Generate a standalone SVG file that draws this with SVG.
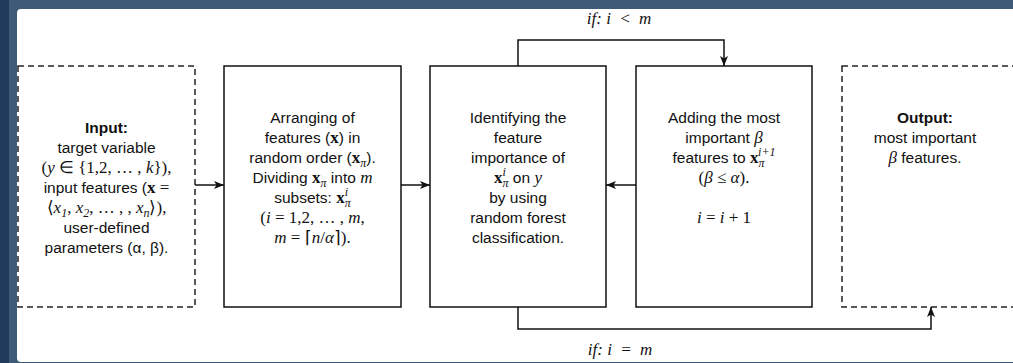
<svg xmlns="http://www.w3.org/2000/svg" width="1013" height="363" viewBox="0 0 1013 363">
<defs>
<style>
.t{font-family:"Liberation Sans",Arial,sans-serif;font-size:15.5px;fill:#111;text-anchor:middle}
.b{font-weight:bold}
.m{font-family:"Liberation Serif","Times New Roman",serif;font-style:italic;font-size:17px}
.u{font-family:"Liberation Serif","Times New Roman",serif;font-style:normal;font-size:17px}
.bx{font-family:"Liberation Serif","Times New Roman",serif;font-weight:bold;font-style:normal;font-size:17px}
.s{font-family:"Liberation Serif","Times New Roman",serif;font-style:italic;font-size:12px}
.box{fill:#fff;stroke:#111;stroke-width:1.5}
.dash{fill:#fff;stroke:#222;stroke-width:1.5;stroke-dasharray:6 4}
.c{fill:none;stroke:#111;stroke-width:1.5}
.lbl{font-family:"Liberation Serif","Times New Roman",serif;font-style:italic;font-size:17px;fill:#111;text-anchor:middle}
</style>
<marker id="ah" markerUnits="userSpaceOnUse" markerWidth="10" markerHeight="10" viewBox="0 0 10 10" refX="10" refY="5" orient="auto">
<path d="M0,1 L10,5 L0,9 L2.5,5 Z" fill="#111"/>
</marker>
</defs>
<rect x="0" y="0" width="1013" height="363" fill="#3d5a77"/>
<rect x="0" y="0" width="9" height="363" fill="#1f3b5b"/>
<rect x="17" y="9" width="1010" height="353" rx="4" fill="#fff"/>

<g id="connectors">
<line class="c" x1="195" y1="185" x2="224" y2="185" marker-end="url(#ah)"/>
<line class="c" x1="401" y1="185" x2="430" y2="185" marker-end="url(#ah)"/>
<line class="c" x1="636" y1="185" x2="606" y2="185" marker-end="url(#ah)"/>
<path class="c" d="M518,66 V40 H724 V66" marker-end="url(#ah)"/>
<path class="c" d="M518,307 V329 H931 V307" marker-end="url(#ah)"/>
<text class="lbl" x="619" y="24">if: i <tspan dx="4">&lt;</tspan> <tspan dx="4">m</tspan></text>
<text class="lbl" x="620" y="355">if: i <tspan dx="4">=</tspan> <tspan dx="4">m</tspan></text>
</g>

<g id="input">
<rect class="dash" x="18" y="66" width="177" height="241"/>
<text class="t b" x="106.5" y="133">Input:</text>
<text class="t" x="106.5" y="153">target variable</text>
<text class="t" x="106.5" y="173"><tspan class="u">(</tspan><tspan class="m">y</tspan><tspan class="u"> ∈ {1,2, … , </tspan><tspan class="m">k</tspan><tspan class="u">}),</tspan></text>
<text class="t" x="106.5" y="193">input features (<tspan class="bx">x</tspan><tspan class="u"> =</tspan></text>
<text class="t" x="106.5" y="213"><tspan class="u">⟨</tspan><tspan class="m">x</tspan><tspan class="s" dy="4">1</tspan><tspan class="u" dy="-4">, </tspan><tspan class="m">x</tspan><tspan class="s" dy="4">2</tspan><tspan class="u" dy="-4">, … , , </tspan><tspan class="m">x</tspan><tspan class="s" dy="4">n</tspan><tspan class="u" dy="-4">⟩),</tspan></text>
<text class="t" x="106.5" y="233">user-defined</text>
<text class="t" x="106.5" y="253">parameters  (α, β).</text>
</g>

<g id="arrange">
<rect class="box" x="224" y="66" width="177" height="241"/>
<text class="t" x="312.5" y="123">Arranging of</text>
<text class="t" x="312.5" y="143">features (<tspan class="bx">x</tspan>) in</text>
<text class="t" x="312.5" y="163">random order (<tspan class="bx">x</tspan><tspan class="s" dy="4">π</tspan><tspan dy="-4">).</tspan></text>
<text class="t" x="312.5" y="183">Dividing <tspan class="bx">x</tspan><tspan class="s" dy="4">π</tspan><tspan dy="-4"> into </tspan><tspan class="m">m</tspan></text>
<text class="t" x="312.5" y="203">subsets: <tspan class="bx">x</tspan><tspan class="s" dy="-7">i</tspan><tspan class="s" dx="-3.3" dy="11">π</tspan></text>
<text class="t" x="312.5" y="223"><tspan class="u">(</tspan><tspan class="m">i</tspan><tspan class="u"> = 1,2, … , </tspan><tspan class="m">m</tspan><tspan class="u">,</tspan></text>
<text class="t" x="312.5" y="243"><tspan class="m">m</tspan><tspan class="u"> = ⌈</tspan><tspan class="m">n</tspan><tspan class="u">/</tspan><tspan class="m">α</tspan><tspan class="u">⌉).</tspan></text>
</g>

<g id="identify">
<rect class="box" x="430" y="66" width="176" height="241"/>
<text class="t" x="518" y="123">Identifying the</text>
<text class="t" x="518" y="143">feature</text>
<text class="t" x="518" y="163">importance of</text>
<text class="t" x="518" y="183"><tspan class="bx">x</tspan><tspan class="s" dy="-7">i</tspan><tspan class="s" dx="-3.3" dy="11">π</tspan><tspan dy="-4"> on </tspan><tspan class="m">y</tspan></text>
<text class="t" x="518" y="203">by using</text>
<text class="t" x="518" y="223">random forest</text>
<text class="t" x="518" y="243">classification.</text>
</g>

<g id="add">
<rect class="box" x="636" y="66" width="176" height="241"/>
<text class="t" x="724" y="123">Adding the most</text>
<text class="t" x="724" y="143">important <tspan class="m">β</tspan></text>
<text class="t" x="724" y="163">features to <tspan class="bx">x</tspan><tspan class="s" dy="4">π</tspan><tspan class="s" dx="-6.5" dy="-11">i+1</tspan></text>
<text class="t" x="724" y="183"><tspan class="u">(</tspan><tspan class="m">β</tspan><tspan class="u"> ≤ </tspan><tspan class="m">α</tspan><tspan class="u">).</tspan></text>
<text class="t" x="724" y="223"><tspan class="m">i</tspan><tspan class="u"> = </tspan><tspan class="m">i</tspan><tspan class="u"> + 1</tspan></text>
</g>

<g id="output">
<rect class="dash" x="842" y="66" width="177" height="241"/>
<text class="t b" x="925" y="123">Output:</text>
<text class="t" x="925" y="143">most important</text>
<text class="t" x="925" y="163"><tspan class="m">β</tspan> features.</text>
</g>
</svg>
